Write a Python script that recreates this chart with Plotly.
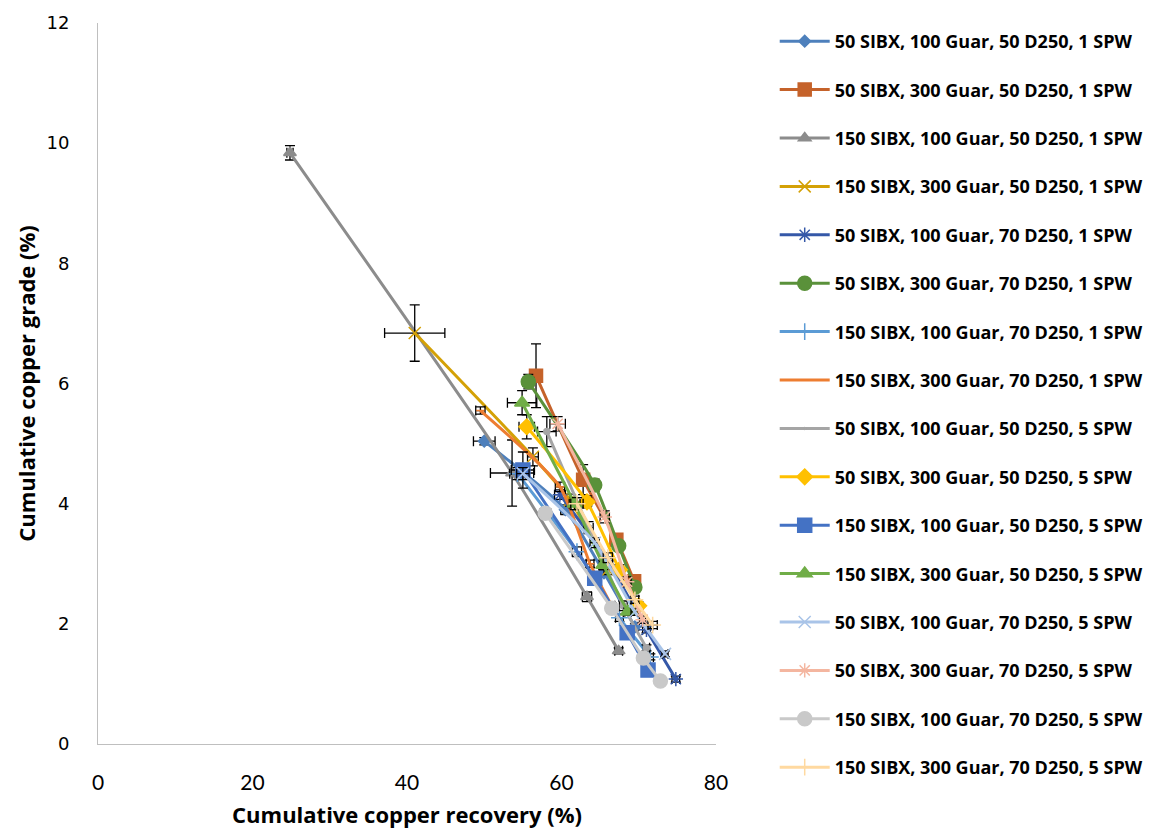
import plotly.graph_objects as go

names = [
    "50 SIBX, 100 Guar, 50 D250, 1 SPW",
    "50 SIBX, 300 Guar, 50 D250, 1 SPW",
    "150 SIBX, 100 Guar, 50 D250, 1 SPW",
    "150 SIBX, 300 Guar, 50 D250, 1 SPW",
    "50 SIBX, 100 Guar, 70 D250, 1 SPW",
    "50 SIBX, 300 Guar, 70 D250, 1 SPW",
    "150 SIBX, 100 Guar, 70 D250, 1 SPW",
    "150 SIBX, 300 Guar, 70 D250, 1 SPW",
    "50 SIBX, 100 Guar, 50 D250, 5 SPW",
    "50 SIBX, 300 Guar, 50 D250, 5 SPW",
    "150 SIBX, 100 Guar, 50 D250, 5 SPW",
    "150 SIBX, 300 Guar, 50 D250, 5 SPW",
    "50 SIBX, 100 Guar, 70 D250, 5 SPW",
    "50 SIBX, 300 Guar, 70 D250, 5 SPW",
    "150 SIBX, 100 Guar, 70 D250, 5 SPW",
    "150 SIBX, 300 Guar, 70 D250, 5 SPW",
]

# cumulative recovery (%)
rec = [
    [50.0, 60.5, 65.5, 69.5],
    [56.7, 62.8, 67.1, 69.4],
    [24.85, 53.6, 63.3, 67.4],
    [41.0, 56.3, 61.1, 66.0],
    [59.8, 66.0, 71.0, 74.8],
    [55.7, 64.3, 67.4, 69.5],
    [54.3, 62.0, 67.5, 71.5],
    [49.5, 59.8, 63.7, 66.5],
    [58.1, 63.5, 68.0, 71.0],
    [55.5, 63.3, 67.5, 70.0],
    [55.0, 64.3, 68.5, 71.2],
    [54.9, 61.7, 65.4, 68.6],
    [55.0, 64.3, 69.5, 73.4],
    [59.5, 65.6, 68.5, 70.5],
    [57.9, 66.5, 70.6, 72.8],
    [62.0, 66.0, 69.5, 71.8],
]
# cumulative grade (%)
grade = [
    [5.04, 3.90, 2.85, 1.95],
    [6.13, 4.40, 3.40, 2.71],
    [9.84, 4.51, 2.45, 1.55],
    [6.84, 4.78, 4.06, 2.90],
    [4.15, 3.05, 1.90, 1.08],
    [6.03, 4.31, 3.30, 2.61],
    [4.50, 3.20, 2.10, 1.45],
    [5.55, 4.28, 3.00, 2.30],
    [5.20, 3.60, 2.30, 1.60],
    [5.28, 4.03, 2.90, 2.30],
    [4.56, 2.76, 1.85, 1.23],
    [5.68, 4.00, 2.98, 2.20],
    [4.50, 3.35, 2.20, 1.50],
    [5.33, 3.78, 2.70, 2.07],
    [3.84, 2.26, 1.43, 1.05],
    [4.00, 3.10, 2.40, 1.98],
]
# error bars (standard deviation)
rec_err = [
    [1.4, 0.6, 0.5, 0.4],
    [0.8, 0.6, 0.5, 0.4],
    [0.4, 2.8, 0.6, 0.5],
    [3.9, 0.7, 0.6, 0.5],
    [0.7, 0.6, 0.5, 0.5],
    [0.7, 0.6, 0.5, 0.4],
    [1.0, 0.6, 0.5, 0.4],
    [0.6, 0.6, 0.5, 0.4],
    [1.2, 0.6, 0.5, 0.4],
    [1.0, 0.6, 0.5, 0.4],
    [1.5, 0.6, 0.5, 0.4],
    [1.9, 0.7, 0.5, 0.4],
    [0.8, 0.6, 0.5, 0.4],
    [1.0, 0.6, 0.5, 0.4],
    [0.7, 0.6, 0.5, 0.4],
    [0.8, 0.6, 0.5, 0.6],
]
grade_err = [
    [0.06, 0.08, 0.06, 0.05],
    [0.53, 0.25, 0.10, 0.08],
    [0.12, 0.55, 0.08, 0.05],
    [0.47, 0.15, 0.10, 0.08],
    [0.08, 0.06, 0.05, 0.05],
    [0.12, 0.10, 0.08, 0.06],
    [0.10, 0.08, 0.06, 0.05],
    [0.06, 0.08, 0.06, 0.05],
    [0.25, 0.10, 0.08, 0.05],
    [0.20, 0.10, 0.08, 0.06],
    [0.30, 0.10, 0.08, 0.05],
    [0.20, 0.10, 0.08, 0.06],
    [0.10, 0.08, 0.06, 0.05],
    [0.12, 0.10, 0.08, 0.06],
    [0.08, 0.06, 0.05, 0.04],
    [0.10, 0.08, 0.06, 0.06],
]

colors = ["#4E80BC", "#C5622A", "#8C8C8C", "#D4A106", "#3558A8", "#5A913A",
          "#5B9BD5", "#ED7D31", "#A5A5A5", "#FFC000", "#4472C4", "#70AD47",
          "#A9C4E8", "#F4B6A0", "#C9C9C9", "#FFD9A0"]
symbols = ["diamond", "square", "triangle-up", "x-thin-open", "asterisk-open", "circle",
           "cross-thin-open", "line-ew-open", "circle", "diamond", "square", "triangle-up",
           "x-thin-open", "asterisk-open", "circle", "cross-thin-open"]
msizes = [9, 13, 11, 12, 12, 14, 12, 6, 0, 12, 14, 13, 12, 12, 14, 12]

fig = go.Figure()
for i in range(len(names)):
    fig.add_trace(go.Scatter(
        x=rec[i], y=grade[i], name=names[i], mode="lines+markers",
        legendgroup=f"g{i}",
        line=dict(color=colors[i], width=3, shape="spline", smoothing=0.6),
        marker=dict(symbol=symbols[i], size=msizes[i], color=colors[i],
                    line=dict(color=colors[i], width=1.5)),
        error_x=dict(type="data", array=rec_err[i], color="black", thickness=1.3, width=5),
        error_y=dict(type="data", array=grade_err[i], color="black", thickness=1.3, width=5),
    ))

fig.update_layout(
    width=1165, height=835,
    margin=dict(l=98, r=449, t=23, b=91),
    paper_bgcolor="white", plot_bgcolor="white",
    showlegend=True,
    legend=dict(x=1.095, xanchor="left", y=1.0, yanchor="top",
                font=dict(family="Open Sans", size=18, color="#000000", weight="bold"),
                tracegroupgap=22, itemwidth=50, bgcolor="rgba(0,0,0,0)",
                maxheight=830),
    xaxis=dict(range=[0, 80], dtick=20, showgrid=False, zeroline=False,
               showline=True, linecolor="#BFBFBF", linewidth=1,
               ticks="outside", ticklen=20, tickcolor="rgba(0,0,0,0)",
               tickfont=dict(family="Lato", size=21, color="#000000"),
               title=dict(text="Cumulative copper recovery (%)", standoff=14,
                          font=dict(family="Open Sans", size=22, color="#000000", weight="bold"))),
    yaxis=dict(range=[0, 12], dtick=2, showgrid=False, zeroline=False,
               showline=True, linecolor="#BFBFBF", linewidth=1,
               ticks="outside", ticklen=24, tickcolor="rgba(0,0,0,0)",
               tickfont=dict(family="DejaVu Sans", size=18, color="#000000"),
               title=dict(text="Cumulative copper grade (%)", standoff=4,
                          font=dict(family="Open Sans", size=22, color="#000000", weight="bold"))),
)

fig.write_html("out.html")
